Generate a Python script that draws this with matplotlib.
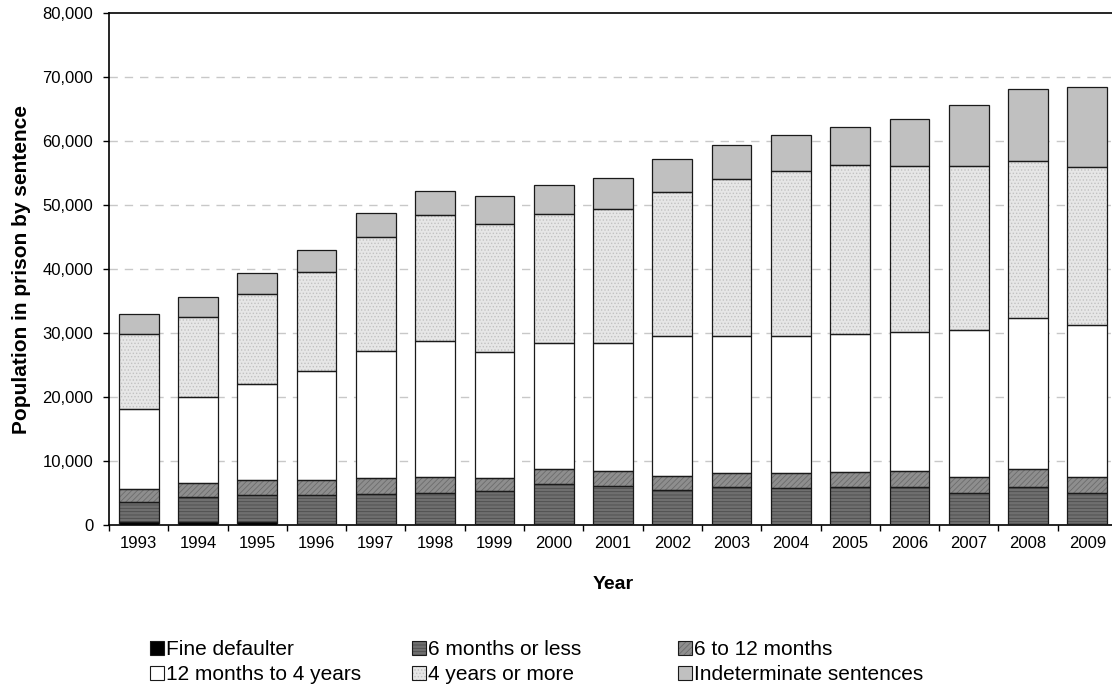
import numpy as np
import matplotlib
matplotlib.use('Agg')
import matplotlib.pyplot as plt
from matplotlib.patches import Patch
from matplotlib.legend_handler import HandlerTuple

plt.rcParams['font.family'] = ['Liberation Sans', 'DejaVu Sans']
plt.rcParams['hatch.linewidth'] = 0.6

years = ['1993', '1994', '1995', '1996', '1997', '1998', '1999', '2000', '2001',
         '2002', '2003', '2004', '2005', '2006', '2007', '2008', '2009']

# population by sentence length
fine_defaulter = [400, 400, 400, 100, 100, 150, 50, 100, 50, 50, 50, 50, 50, 50, 50, 150, 100]
six_months_or_less = [3240, 3970, 4300, 4600, 4800, 4900, 5210, 6250, 6050, 5370, 5890,
                      5680, 5940, 5940, 5000, 5790, 4950]
six_to_twelve = [2030, 2130, 2400, 2400, 2500, 2500, 2090, 2450, 2400, 2280, 2130,
                 2340, 2290, 2500, 2500, 2860, 2500]
twelve_to_four = [12530, 13450, 15000, 17000, 19850, 21250, 19650, 19600, 20000, 21900,
                  21530, 21530, 21620, 21610, 22950, 23600, 23750]
four_plus = [11700, 12600, 14000, 15400, 17700, 19600, 20100, 20200, 20900, 22500,
             24450, 25700, 26400, 26050, 25650, 24500, 24700]
indeterminate = [3000, 3150, 3200, 3500, 3750, 3850, 4300, 4600, 4800, 5150, 5250,
                 5700, 5900, 7250, 9450, 11300, 12400]

series = [
    ('Fine defaulter', fine_defaulter, 'black', None, 'black'),
    ('6 months or less', six_months_or_less, '#6f6f6f', '-----', '#4c4c4c'),
    ('6 to 12 months', six_to_twelve, '#8e8e8e', '//////', '#6c6c6c'),
    ('12 months to 4 years', twelve_to_four, 'white', None, 'white'),
    ('4 years or more', four_plus, '#e6e6e6', '.....', '#c2c2c2'),
    ('Indeterminate sentences', indeterminate, '#c0c0c0', None, '#c0c0c0'),
]

fig = plt.figure(figsize=(11.12, 6.89), dpi=100)
ax = fig.add_axes([109/1112, (689-525)/689, 1008/1112, 512/689])

x = np.arange(len(years))
w = 0.67
bottom = np.zeros(len(years))
handles = {}
for name, vals, face, hatch, hcol in series:
    vals = np.array(vals)
    ax.bar(x, vals, w, bottom=bottom, color=face, hatch=hatch, edgecolor=hcol,
           linewidth=0, zorder=2)
    ax.bar(x, vals, w, bottom=bottom, fill=False, edgecolor='#1a1a1a',
           linewidth=0.9, zorder=3)
    handles[name] = (Patch(facecolor=face, hatch=hatch, edgecolor=hcol, linewidth=0),
                     Patch(fill=False, edgecolor='#1a1a1a', linewidth=0.8))
    bottom += vals

ax.set_xlim(-0.5, len(years) - 0.5)
ax.set_ylim(0, 80000)
ax.set_yticks(np.arange(0, 80001, 10000))
ax.set_yticklabels(['{:,}'.format(int(v)) for v in np.arange(0, 80001, 10000)])
ax.set_xticks(x)
ax.set_xticklabels(years)
ax.set_xticks(np.arange(-0.5, len(years)), minor=True)
ax.tick_params(axis='x', which='major', length=0, labelsize=12, pad=8)
ax.tick_params(axis='x', which='minor', length=4.3, width=1, direction='out')
ax.tick_params(axis='y', length=4.3, width=1, labelsize=12, pad=7)
for v in range(10000, 80000, 10000):
    ax.axhline(v, color='#c8c8c8', linewidth=1, linestyle=(0, (6, 5)), zorder=1)
for s in ['left', 'bottom', 'top']:
    ax.spines[s].set_linewidth(1.2)
ax.spines['right'].set_visible(False)

ax.set_xlabel('Year', fontsize=14, fontweight='bold', labelpad=18)
ax.set_ylabel('Population in prison by sentence', fontsize=15, fontweight='bold', labelpad=8)

cols = [['Fine defaulter', '12 months to 4 years'],
        ['6 months or less', '4 years or more'],
        ['6 to 12 months', 'Indeterminate sentences']]
col_x = [150, 412, 678]
for cx, names in zip(col_x, cols):
    fig.legend([handles[n] for n in names], names,
               handler_map={tuple: HandlerTuple(ndivide=1, pad=0)},
               loc='upper left', bbox_to_anchor=(cx/1112, 1 - 640/689),
               frameon=False, fontsize=15, handlelength=0.65, handleheight=0.65,
               handletextpad=0.12, borderpad=0, borderaxespad=0, labelspacing=0.3)

fig.savefig('out.png', dpi=100)
